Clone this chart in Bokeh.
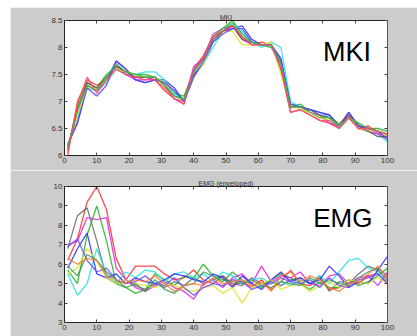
from bokeh.plotting import figure
from bokeh.layouts import column
from bokeh.models import LinearAxis, Label, FixedTicker
from bokeh.embed import file_html
from bokeh.resources import INLINE

# ---------------- data ----------------
x_mki = [1, 4, 7, 10, 13, 16, 19, 22, 25, 28, 31, 34, 37, 40, 43, 46, 49, 52, 55, 58,
         61, 64, 67, 70, 73, 76, 79, 82, 85, 88, 91, 94, 97, 100]
mki_1 = [6.2, 6.6, 7.3, 7.2, 7.4, 7.75, 7.6, 7.4, 7.35, 7.4, 7.4, 7.25, 7.0, 7.5, 7.7, 8.1, 8.3, 8.35, 8.4, 8.15,
         8.05, 8.05, 7.8, 6.95, 6.9, 6.85, 6.8, 6.75, 6.55, 6.8, 6.55, 6.5, 6.45, 6.35]
mki_2 = [6.15, 6.9, 7.35, 7.25, 7.5, 7.65, 7.55, 7.5, 7.5, 7.45, 7.35, 7.15, 7.1, 7.55, 7.8, 8.2, 8.35, 8.5, 8.25, 8.1,
         8.05, 8.0, 7.7, 6.9, 6.95, 6.8, 6.7, 6.7, 6.6, 6.7, 6.6, 6.5, 6.5, 6.45]
mki_3 = [6.0, 7.0, 7.4, 7.3, 7.4, 7.6, 7.5, 7.45, 7.45, 7.4, 7.2, 7.05, 6.95, 7.6, 7.85, 8.2, 8.3, 8.4, 8.2, 8.05,
         8.1, 8.05, 7.6, 6.8, 6.85, 6.75, 6.65, 6.6, 6.5, 6.7, 6.5, 6.55, 6.4, 6.4]
mki_4 = [6.2, 6.7, 7.25, 7.2, 7.35, 7.6, 7.5, 7.5, 7.55, 7.55, 7.4, 7.15, 7.0, 7.45, 7.7, 8.0, 8.3, 8.45, 8.3, 8.1,
         8.0, 8.1, 8.0, 7.0, 6.9, 6.85, 6.8, 6.7, 6.5, 6.7, 6.5, 6.45, 6.4, 6.25]
mki_5 = [6.15, 6.8, 7.3, 7.2, 7.4, 7.7, 7.5, 7.4, 7.4, 7.45, 7.3, 7.05, 7.0, 7.65, 7.8, 8.25, 8.35, 8.4, 8.15, 8.05,
         8.05, 8.05, 7.6, 6.9, 6.9, 6.8, 6.75, 6.6, 6.55, 6.75, 6.5, 6.45, 6.4, 6.3]
mki_6 = [6.1, 6.75, 7.25, 7.25, 7.4, 7.6, 7.55, 7.5, 7.45, 7.45, 7.35, 7.1, 7.0, 7.45, 7.7, 8.1, 8.3, 8.3, 8.05, 8.05,
         8.05, 8.1, 7.5, 6.95, 6.85, 6.8, 6.7, 6.65, 6.6, 6.75, 6.5, 6.45, 6.45, 6.35]
mki_7 = [6.1, 6.85, 7.35, 7.25, 7.45, 7.65, 7.55, 7.45, 7.45, 7.45, 7.3, 7.1, 7.05, 7.55, 7.8, 8.15, 8.3, 8.4, 8.15, 8.1,
         8.05, 8.05, 7.7, 6.9, 6.9, 6.85, 6.75, 6.7, 6.55, 6.75, 6.55, 6.45, 6.35, 6.35]
mki_8 = [6.2, 6.6, 7.25, 7.1, 7.3, 7.75, 7.6, 7.4, 7.35, 7.4, 7.35, 7.2, 7.0, 7.45, 7.75, 8.1, 8.25, 8.35, 8.35, 8.1,
         8.05, 8.05, 7.75, 6.95, 6.9, 6.85, 6.8, 6.75, 6.55, 6.8, 6.55, 6.5, 6.45, 6.3]
mki_9 = [6.15, 6.85, 7.3, 7.2, 7.45, 7.7, 7.55, 7.5, 7.45, 7.45, 7.3, 7.1, 7.05, 7.55, 7.8, 8.2, 8.35, 8.45, 8.2, 8.1,
         8.05, 8.05, 7.7, 6.9, 6.9, 6.8, 6.7, 6.7, 6.55, 6.7, 6.6, 6.5, 6.45, 6.4]
mki_10 = [6.05, 6.95, 7.45, 7.15, 7.4, 7.6, 7.5, 7.45, 7.4, 7.4, 7.25, 7.05, 6.95, 7.6, 7.8, 8.2, 8.3, 8.4, 8.2, 8.05,
          8.05, 8.05, 7.6, 6.8, 6.85, 6.75, 6.65, 6.65, 6.5, 6.7, 6.5, 6.5, 6.45, 6.4]

x_emg = [1, 4, 7, 10, 13, 16, 19, 22, 25, 28, 31, 34, 37, 40, 43, 46, 49, 52, 55, 58,
         61, 64, 67, 70, 73, 76, 79, 82, 85, 88, 91, 94, 97, 100]
emg_red = [6.2, 7.3, 9.2, 10.0, 8.8, 6.3, 5.2, 5.9, 5.9, 5.9, 5.5, 5.2, 5.3, 5.7, 5.2, 5.0, 5.4, 4.9, 5.1, 4.8,
           5.2, 4.7, 5.1, 5.7, 5.0, 4.9, 5.3, 4.7, 4.8, 5.2, 5.0, 5.4, 5.5, 5.1]
emg_gray = [6.8, 8.5, 8.9, 7.2, 5.3, 5.0, 5.2, 4.9, 4.7, 5.0, 4.8, 5.1, 4.9, 5.3, 5.0, 5.2, 5.4, 5.0, 4.9, 5.3,
            5.0, 5.1, 4.9, 5.2, 5.3, 5.0, 5.4, 4.6, 5.1, 5.0, 5.5, 5.9, 5.7, 5.2]
emg_green = [5.7, 5.0, 7.5, 9.0, 7.2, 5.0, 4.8, 4.5, 4.7, 5.5, 5.2, 4.9, 5.4, 5.3, 6.0, 5.4, 5.1, 5.6, 5.2, 5.0,
             4.8, 5.2, 5.5, 5.3, 5.0, 4.7, 5.1, 4.8, 4.8, 5.2, 4.9, 5.1, 5.4, 5.8]
emg_magenta = [7.0, 7.2, 8.4, 8.3, 8.4, 5.8, 5.2, 4.8, 4.6, 4.9, 5.1, 4.8, 4.6, 4.2, 5.0, 5.2, 4.8, 5.3, 5.5, 5.0,
               5.9, 5.1, 5.4, 5.3, 5.6, 5.0, 4.9, 5.4, 5.5, 5.0, 5.3, 5.4, 4.9, 5.6]
emg_cyan = [5.5, 4.4, 5.0, 6.8, 5.5, 5.0, 5.6, 5.3, 5.7, 5.6, 5.1, 5.5, 5.6, 5.3, 5.5, 5.1, 5.6, 5.4, 5.0, 5.2,
            5.3, 5.0, 5.1, 4.9, 5.2, 5.0, 5.4, 5.0, 5.6, 6.2, 6.3, 5.8, 5.6, 5.0]
emg_blue = [5.8, 6.8, 7.6, 5.5, 5.3, 5.5, 5.0, 5.3, 5.1, 5.0, 5.2, 5.5, 5.4, 5.2, 5.1, 5.5, 5.3, 4.8, 5.4, 5.0,
            4.7, 5.2, 5.6, 5.1, 5.3, 5.0, 5.2, 5.9, 5.4, 4.8, 5.1, 5.0, 5.7, 6.4]
emg_yellow = [5.5, 5.8, 6.8, 6.2, 5.3, 5.0, 5.2, 5.0, 4.9, 4.8, 5.0, 4.9, 4.7, 4.6, 4.8, 4.9, 4.5, 4.8, 4.0, 4.8,
              5.0, 5.2, 4.7, 4.9, 5.0, 4.6, 4.9, 5.1, 4.8, 5.2, 5.1, 5.0, 5.3, 5.0]
emg_violet = [6.9, 7.3, 6.2, 5.6, 5.8, 5.2, 5.0, 5.1, 5.4, 5.0, 4.9, 5.3, 4.8, 4.4, 4.8, 5.0, 4.9, 5.2, 5.1, 4.7,
              4.9, 5.0, 5.3, 5.1, 5.0, 5.2, 4.8, 5.3, 4.9, 4.8, 5.2, 5.3, 5.5, 5.0]
emg_green2 = [5.9, 5.4, 6.5, 6.2, 5.6, 5.2, 4.8, 5.0, 4.6, 5.2, 4.7, 4.5, 4.9, 5.0, 5.6, 5.4, 5.2, 5.1, 5.0, 5.2,
              4.9, 4.8, 5.1, 5.0, 4.9, 5.3, 5.0, 5.2, 5.0, 4.9, 5.3, 5.6, 5.8, 5.4]
emg_orange = [6.3, 6.0, 6.3, 6.2, 5.4, 5.2, 5.0, 5.2, 5.1, 5.4, 5.0, 4.6, 4.9, 5.0, 4.9, 5.3, 5.0, 5.1, 5.2, 4.9,
              5.1, 4.6, 5.4, 5.6, 5.1, 5.4, 5.2, 4.8, 4.6, 5.0, 5.1, 5.5, 5.9, 5.3]

mki_series = [mki_1, mki_2, mki_3, mki_4, mki_5, mki_6, mki_7, mki_8, mki_9, mki_10]
mki_colors = ["#2a2aff", "#22b022", "#ff2a2a", "#22e0e0", "#e022e0", "#e0e022", "#555555", "#5a3cff", "#3cc83c", "#ff4a6a"]
emg_series = [emg_red, emg_gray, emg_green, emg_magenta, emg_cyan, emg_blue, emg_yellow, emg_violet, emg_green2, emg_orange]
emg_colors = ["#ff2a2a", "#666666", "#22b022", "#e022e0", "#22e0e0", "#2a2aff", "#e0e022", "#6a4aff", "#3a9a5a", "#ff7a2a"]

mki_yticks = [6, 6.5, 7, 7.5, 8, 8.5]
emg_yticks = [3, 4, 5, 6, 7, 8, 9, 10]
xticks = [0, 10, 20, 30, 40, 50, 60, 70, 80, 90, 100]

BG = "#cccccc"
FONT = "Liberation Sans"


def make_fig(height, top, bottom, y_range, yticks, title):
    p = figure(width=407, height=height, x_range=(0, 100), y_range=y_range,
               output_backend="svg", toolbar_location=None,
               min_border_left=54, min_border_right=30,
               min_border_top=top, min_border_bottom=bottom)
    p.title.text = title
    p.title.align = "center"
    p.title.text_font = FONT
    p.title.text_font_size = "7px"
    p.title.text_font_style = "normal"
    p.title.text_color = "#333333"
    p.title.standoff = 0
    p.title.offset = 0
    p.border_fill_color = BG
    p.background_fill_color = "white"
    p.outline_line_color = "#222222"
    p.grid.visible = False
    for ax in (p.xaxis[0], p.yaxis[0]):
        ax.major_tick_in = 3
        ax.major_tick_out = 0
        ax.minor_tick_line_color = None
        ax.axis_line_color = "#222222"
        ax.major_tick_line_color = "#444444"
        ax.major_label_text_font = FONT
        ax.major_label_text_font_size = "8px"
        ax.major_label_text_color = "#333333"
        ax.major_label_standoff = 2
    p.xaxis[0].ticker = FixedTicker(ticks=xticks)
    p.yaxis[0].ticker = FixedTicker(ticks=yticks)
    ra = LinearAxis(ticker=FixedTicker(ticks=yticks), major_label_text_color=None,
                    major_label_text_font_size="1px", major_label_standoff=0,
                    major_tick_in=3, major_tick_out=0, minor_tick_line_color=None,
                    axis_line_color="#555555", major_tick_line_color="#444444")
    ta = LinearAxis(ticker=FixedTicker(ticks=xticks), major_label_text_color=None,
                    major_label_text_font_size="1px", major_label_standoff=0,
                    major_tick_in=3, major_tick_out=0, minor_tick_line_color=None,
                    axis_line_color="#222222", major_tick_line_color="#444444")
    p.add_layout(ra, "right")
    p.add_layout(ta, "above")
    return p


p1 = make_fig(163, 13, 15, (6, 8.5), mki_yticks, "MKI")
for ys, c in zip(mki_series, mki_colors):
    p1.line(x_mki, ys, line_color=c, line_width=1.3, line_alpha=0.85)
p1.add_layout(Label(x=80, y=7.91, text="MKI", text_align="left", text_baseline="middle",
                    text_font=FONT, text_font_size="27px", text_color="black"))

p2 = make_fig(166, 16, 14, (3, 10), emg_yticks, "EMG (enveloped)")
for ys, c in zip(emg_series, emg_colors):
    p2.line(x_emg, ys, line_color=c, line_width=1.3, line_alpha=0.85)
p2.add_layout(Label(x=77, y=8.4, text="EMG", text_align="left", text_baseline="middle",
                    text_font=FONT, text_font_size="26px", text_color="black"))

layout = column(p1, p2, spacing=0, margin=(7, 0, 0, 10))
open("out.html", "w").write(file_html(layout, INLINE))
